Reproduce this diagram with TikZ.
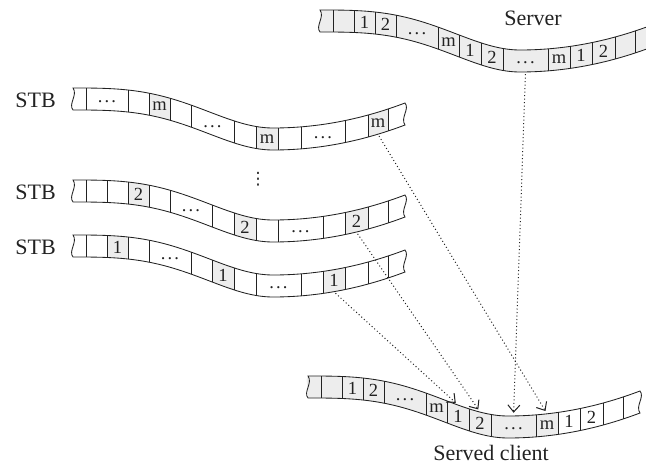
\documentclass[tikz,border=0pt]{standalone}
\usepackage{fontspec}
\setmainfont{Liberation Serif}
\newfontfamily\symbolfont{DejaVu Sans}
\usetikzlibrary{arrows.meta}
\definecolor{cellgray}{HTML}{EDEDED}
\definecolor{ink}{HTML}{222222}

% outline of one wavy strip (length 332, height 22), torn ends
\newcommand\stripoutline{%
  plot[domain=0:332,samples=90] (\x,{wv(\x)})
  .. controls +(5,6) and +(-5,-7) .. (332,{wv(332)+22})
  -- plot[domain=332:0,samples=90] (\x,{wv(\x)+22})
  .. controls +(-5,-6) and +(5,7) .. (0,0) -- cycle}
% shaded cell between two positions along the strip
\newcommand\graycell[2]{\fill[cellgray] plot[domain=#1:#2,samples=10] (\x,{wv(\x)})
  -- plot[domain=#2:#1,samples=10] (\x,{wv(\x)+22}) -- cycle;}
% cell walls
\newcommand\walls[1]{\foreach \s in {#1} \draw[band line] (\s,{wv(\s)}) -- (\s,{wv(\s)+22});}
% cell content: name, from, to, text
\newcommand\lab[4]{\node[cell label] (#1) at ({(#2+#3)/2},{wv((#2+#3)/2)+11}) {#4};}
\newcommand\gap[3]{\node[cell label,text height=6pt,text depth=0pt] (#1) at ({(#2+#3)/2},{wv((#2+#3)/2)+11}) {.\kern2.2pt.\kern2.2pt.};}

\begin{document}
\begin{tikzpicture}[x=1pt,y=-1pt,
  declare function={
    wl(\q)=20*(1-cos(180*(\q/200)*sqrt(\q/200)));
    wr(\q)=40-25*((\q-200)/132)^2;
    wv(\q)=(\q<200)*wl(\q)+(\q>=200)*wr(\q);
  },
  band line/.style={draw=ink,line width=0.85pt},
  cell label/.style={inner sep=0pt,minimum height=22pt,text=ink,
    font=\fontsize{18.5}{18}\selectfont},
  side label/.style={inner sep=0pt,text=ink,font=\fontsize{22}{26}\selectfont},
  flow/.style={draw=ink,line width=1pt,dash pattern=on 1pt off 2.5pt,
    -{Straight Barb[length=7pt,width=12pt,line width=1pt]},
    shorten <=2pt,shorten >=3pt}]
\useasboundingbox (0,0) rectangle (646,471);

% ---- server stream ----
\begin{scope}[shift={(320,10)}]
  \fill[cellgray] \stripoutline;
  \walls{13,34,55,76,118,139,161,183,228,250,272,295,315}
  \draw[band line] \stripoutline;
  \lab{sv1a}{34}{55}{1} \lab{sv2a}{55}{76}{2} \gap{svd1}{76}{118}
  \lab{svma}{118}{139}{m} \lab{sv1b}{139}{161}{1} \lab{sv2b}{161}{183}{2}
  \gap{svd2}{183}{228} \lab{svmb}{228}{250}{m} \lab{sv1c}{250}{272}{1}
  \lab{sv2c}{272}{295}{2}
\end{scope}
\node[side label,anchor=base] (server) at (533,26) {Server};

% ---- set-top box holding the m-th segments ----
\begin{scope}[shift={(73,88)}]
  \graycell{76}{97} \graycell{183}{205} \graycell{295}{315}
  \walls{13,55,76,97,118,161,183,205,228,272,295,315}
  \draw[band line] \stripoutline;
  \gap{tmd1}{13}{55} \lab{tmm1}{76}{97}{m} \gap{tmd2}{118}{161}
  \lab{tmm2}{183}{205}{m} \gap{tmd3}{228}{272} \lab{tmm3}{295}{315}{m}
\end{scope}
\node[side label,anchor=base east] (stbm) at (56,107.5) {STB};

% ---- set-top box holding the 2nd segments ----
\begin{scope}[shift={(73,180)}]
  \graycell{55}{76} \graycell{161}{183} \graycell{272}{295}
  \walls{13,34,55,76,97,139,161,183,205,250,272,295,315}
  \draw[band line] \stripoutline;
  \lab{tb21}{55}{76}{2} \gap{tbd1}{97}{139} \lab{tb22}{161}{183}{2}
  \gap{tbd2}{205}{250} \lab{tb23}{272}{295}{2}
\end{scope}
\node[side label,anchor=base east] (stbb) at (56,199.5) {STB};

% ---- set-top box holding the 1st segments ----
\begin{scope}[shift={(73,235)}]
  \graycell{34}{55} \graycell{139}{161} \graycell{250}{272}
  \walls{13,34,55,76,118,139,161,183,228,250,272,295,315}
  \draw[band line] \stripoutline;
  \lab{ta11}{34}{55}{1} \gap{tad1}{76}{118} \lab{ta12}{139}{161}{1}
  \gap{tad2}{183}{228} \lab{ta13}{250}{272}{1}
\end{scope}
\node[side label,anchor=base east] (stba) at (56,254.5) {STB};

\node[inner sep=0pt,text=ink,font=\symbolfont\fontsize{17}{17}\selectfont] (more) at (258,179) {⋮};

% ---- stream assembled at the client ----
\begin{scope}[shift={(308,376)}]
  \graycell{0}{250}
  \fill[cellgray] (0,0) .. controls +(-5,7) and +(5,-6) .. (0,22) -- (3,{wv(3)+22}) -- (3,{wv(3)}) -- cycle;
  \walls{13,34,55,76,118,139,161,183,228,250,272,295,315}
  \draw[band line] \stripoutline;
  \lab{cl1a}{34}{55}{1} \lab{cl2a}{55}{76}{2} \gap{cld1}{76}{118}
  \lab{clma}{118}{139}{m} \lab{cl1b}{139}{161}{1} \lab{cl2b}{161}{183}{2}
  \gap{cld2}{183}{228} \lab{clmb}{228}{250}{m} \lab{cl1c}{250}{272}{1}
  \lab{cl2c}{272}{295}{2}
\end{scope}
\node[side label,anchor=base] (client) at (491,460) {Served client};

% ---- segment transfers ----
\draw[flow] (ta13.south) -- (cl1b.north);
\draw[flow] (tb23.south) -- (cl2b.north);
\draw[flow] (svd2.south) -- (cld2.north);
\draw[flow] (tmm3.south) -- (clmb.north);
\end{tikzpicture}
\end{document}
